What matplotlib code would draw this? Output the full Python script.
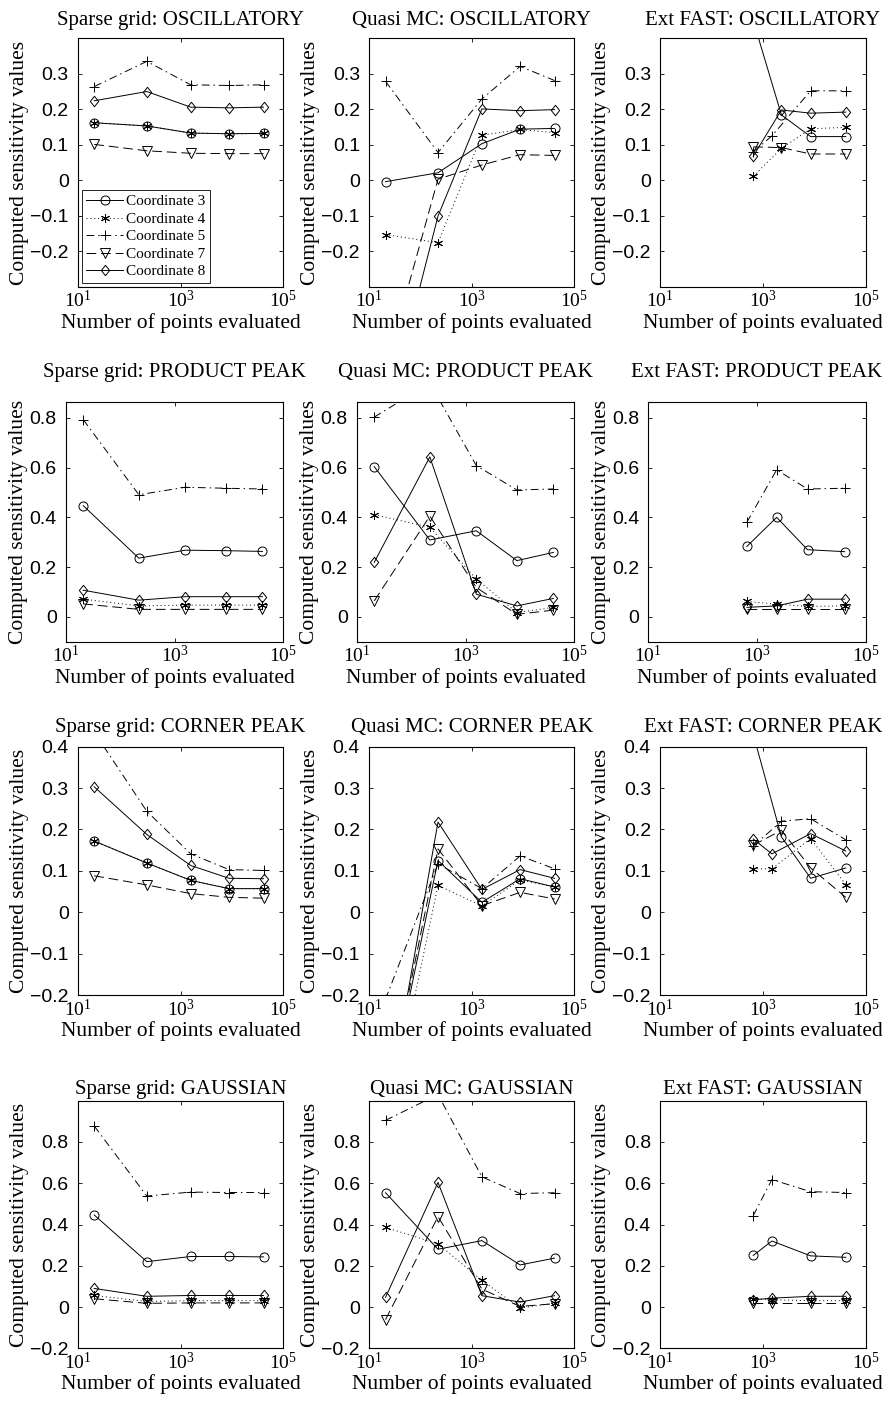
import numpy as np
import matplotlib
matplotlib.use('Agg')
import matplotlib.pyplot as plt
from matplotlib.ticker import NullLocator
from matplotlib.path import Path

# =============================================================================
# FONTS
# -----------------------------------------------------------------------------
plt.rcParams['font.family'] = 'Liberation Serif'
plt.rcParams['mathtext.fontset'] = 'custom'
plt.rcParams['mathtext.rm'] = 'Liberation Sans'
plt.rcParams['mathtext.it'] = 'Liberation Sans:italic'
plt.rcParams['mathtext.bf'] = 'Liberation Sans:bold'

# =============================================================================
# DATA
# -----------------------------------------------------------------------------
coords = ['Coordinate 3', 'Coordinate 4', 'Coordinate 5', 'Coordinate 7', 'Coordinate 8']
methods = ['Sparse grid', 'Quasi MC', 'Ext FAST']
functions = ['OSCILLATORY', 'PRODUCT PEAK', 'CORNER PEAK', 'GAUSSIAN']

sg_x = [21, 221, 1581, 8801, 41265]
qmc_x = [21, 221, 1581, 8801, 41265]
fast_x_a = [650, 2300, 8500, 41000]
fast_x_b = [650, 1500, 8500, 41000]

# series order: coordinate 3, 4, 5, 7, 8
sg_osc = [[0.162, 0.153, 0.133, 0.131, 0.132],
          [0.162, 0.153, 0.133, 0.131, 0.132],
          [0.264, 0.335, 0.269, 0.267, 0.269],
          [0.101, 0.083, 0.076, 0.075, 0.075],
          [0.224, 0.250, 0.206, 0.204, 0.206]]
qmc_osc = [[-0.004, 0.021, 0.103, 0.144, 0.146],
           [-0.153, -0.176, 0.127, 0.143, 0.134],
           [0.279, 0.078, 0.229, 0.321, 0.281],
           [-0.53, 0.003, 0.043, 0.072, 0.070],
           [-0.68, -0.101, 0.201, 0.196, 0.199]]
fast_osc = [[0.45, 0.184, 0.123, 0.123],
            [0.011, 0.090, 0.145, 0.149],
            [0.080, 0.125, 0.252, 0.252],
            [0.094, 0.092, 0.074, 0.074],
            [0.068, 0.198, 0.189, 0.192]]
fast_osc_x = [fast_x_a, fast_x_a, fast_x_b, fast_x_a, fast_x_a]

sg_pp = [[0.447, 0.236, 0.268, 0.266, 0.263],
         [0.071, 0.044, 0.047, 0.047, 0.047],
         [0.793, 0.491, 0.521, 0.517, 0.514],
         [0.052, 0.030, 0.030, 0.030, 0.030],
         [0.107, 0.067, 0.081, 0.081, 0.081]]
qmc_pp = [[0.604, 0.309, 0.346, 0.226, 0.259],
          [0.411, 0.360, 0.152, 0.017, 0.038],
          [0.803, 0.94, 0.608, 0.510, 0.514],
          [0.064, 0.405, 0.118, 0.010, 0.027],
          [0.219, 0.643, 0.091, 0.044, 0.074]]
fast_pp = [[0.283, 0.400, 0.270, 0.262],
           [0.062, 0.051, 0.042, 0.044],
           [0.380, 0.591, 0.514, 0.517],
           [0.030, 0.030, 0.030, 0.030],
           [0.038, 0.044, 0.071, 0.071]]
fast_pp_x = [fast_x_a, fast_x_a, fast_x_a, fast_x_a, fast_x_a]

sg_cp = [[0.172, 0.119, 0.077, 0.057, 0.057],
         [0.172, 0.119, 0.077, 0.057, 0.057],
         [0.435, 0.244, 0.141, 0.103, 0.101],
         [0.088, 0.066, 0.045, 0.036, 0.034],
         [0.303, 0.188, 0.113, 0.082, 0.081]]
qmc_cp = [[-0.48, 0.125, 0.024, 0.081, 0.061],
          [-0.54, 0.065, 0.015, 0.078, 0.061],
          [-0.21, 0.117, 0.057, 0.136, 0.105],
          [-0.47, 0.153, 0.016, 0.048, 0.032],
          [-0.50, 0.218, 0.055, 0.103, 0.082]]
fast_cp = [[0.43, 0.182, 0.082, 0.107],
           [0.105, 0.105, 0.178, 0.067],
           [0.160, 0.220, 0.226, 0.175],
           [0.162, 0.198, 0.107, 0.036],
           [0.177, 0.141, 0.190, 0.148]]
fast_cp_x = [fast_x_a, fast_x_b, fast_x_a, fast_x_a, fast_x_b]

sg_gs = [[0.446, 0.220, 0.245, 0.245, 0.243],
         [0.056, 0.027, 0.031, 0.031, 0.031],
         [0.877, 0.538, 0.557, 0.555, 0.555],
         [0.040, 0.018, 0.020, 0.020, 0.020],
         [0.090, 0.052, 0.056, 0.056, 0.056]]
qmc_gs = [[0.554, 0.280, 0.322, 0.204, 0.237],
          [0.386, 0.306, 0.129, -0.005, 0.019],
          [0.905, 1.03, 0.631, 0.550, 0.554],
          [-0.061, 0.438, 0.087, 0.003, 0.016],
          [0.047, 0.604, 0.055, 0.024, 0.055]]
fast_gs = [[0.250, 0.320, 0.248, 0.241],
           [0.040, 0.035, 0.031, 0.031],
           [0.443, 0.618, 0.559, 0.555],
           [0.020, 0.020, 0.020, 0.020],
           [0.035, 0.043, 0.052, 0.052]]
fast_gs_x = [fast_x_b, fast_x_b, fast_x_b, fast_x_b, fast_x_b]

row_ylim = [(-0.3, 0.4), (-0.1, 0.865), (-0.2, 0.4), (-0.2, 1.0)]
row_yticks = [[-0.2, -0.1, 0, 0.1, 0.2, 0.3],
              [0, 0.2, 0.4, 0.6, 0.8],
              [-0.2, -0.1, 0, 0.1, 0.2, 0.3, 0.4],
              [-0.2, 0, 0.2, 0.4, 0.6, 0.8]]

# =============================================================================
# LAYOUT (pixels of an 891 x 1403 figure)
# -----------------------------------------------------------------------------
W, H = 891, 1403
rows_px = [(38.3, 286.7), (401.7, 641.7), (746.7, 995.0), (1100.7, 1348.3)]
lefts = [77.7, 369.0, 660.0]
lefts_wide = [65.7, 356.7, 648.3]
rights = [283.3, 574.3, 865.7]
title_pad = [9.5, 17.5, 10.8, 5.0]

# Matlab-like diamond, a bit wider than matplotlib's thin one
diamond = Path([(0, 1), (0.8, 0), (0, -1), (-0.8, 0), (0, 1)],
               [Path.MOVETO, Path.LINETO, Path.LINETO, Path.LINETO, Path.CLOSEPOLY])

styles = [('-', 'o', 6.5),
          ((0, (1, 3)), (6, 2, 0), 6.5),
          ((0, (8, 4, 1.5, 4)), '+', 6.5),
          ((0, (10, 5)), 'v', 6.5),
          ('-', diamond, 7.5)]

panels = [[(sg_osc, [sg_x] * 5), (qmc_osc, [qmc_x] * 5), (fast_osc, fast_osc_x)],
          [(sg_pp, [sg_x] * 5), (qmc_pp, [qmc_x] * 5), (fast_pp, fast_pp_x)],
          [(sg_cp, [sg_x] * 5), (qmc_cp, [qmc_x] * 5), (fast_cp, fast_cp_x)],
          [(sg_gs, [sg_x] * 5), (qmc_gs, [qmc_x] * 5), (fast_gs, fast_gs_x)]]


def tick_text(v):
    if abs(v) < 1e-12:
        return '0'
    return ('%g' % v).replace('-', '\u2212')


fig = plt.figure(figsize=(W / 100, H / 100), dpi=100)

for r in range(4):
    top, bot = rows_px[r]
    for c in range(3):
        left = lefts_wide[c] if r == 1 else lefts[c]
        ax = fig.add_axes([left / W, 1 - bot / H, (rights[c] - left) / W, (bot - top) / H])
        ys, xs = panels[r][c]
        handles = []
        for k in range(5):
            ls, mk, ms = styles[k]
            h, = ax.plot(xs[k], ys[k], linestyle=ls, marker=mk, color='k',
                         lw=0.7, ms=ms, mfc='none', mew=0.7)
            handles.append(h)
        ax.set_xscale('log')
        ax.set_xlim(10, 1e5)
        ax.set_xticks([10, 1e3, 1e5])
        ax.set_xticklabels([r'$\mathregular{10^{1}}$', r'$\mathregular{10^{3}}$',
                            r'$\mathregular{10^{5}}$'], fontsize=14)
        ax.xaxis.set_minor_locator(NullLocator())
        ax.set_ylim(*row_ylim[r])
        ax.set_yticks(row_yticks[r])
        ax.set_yticklabels([tick_text(v) for v in row_yticks[r]],
                           fontfamily='Liberation Sans', fontsize=14)
        ax.yaxis.set_minor_locator(NullLocator())
        ax.tick_params(direction='in', top=True, right=True, length=3, width=0.6)
        ax.tick_params(axis='y', pad=6.5)
        ax.tick_params(axis='x', pad=2.5)
        for sp in ax.spines.values():
            sp.set_linewidth(0.8)
        ax.set_title('%s: %s' % (methods[c], functions[r]), fontsize=15, pad=title_pad[r])
        ax.set_xlabel('Number of points evaluated', fontsize=15.5, labelpad=1)
        ax.set_ylabel('Computed sensitivity values', fontsize=15.5, labelpad=1)
        if r == 0 and c == 0:
            leg = ax.legend(handles, coords, loc='lower left', bbox_to_anchor=(0.02, 0.015),
                            fontsize=11, frameon=True, fancybox=False, edgecolor='k',
                            framealpha=1, borderaxespad=0, labelspacing=0.25,
                            handlelength=2.4, handletextpad=0.2, borderpad=0.3)
            leg.get_frame().set_linewidth(0.6)

fig.savefig('out.png', dpi=100)
